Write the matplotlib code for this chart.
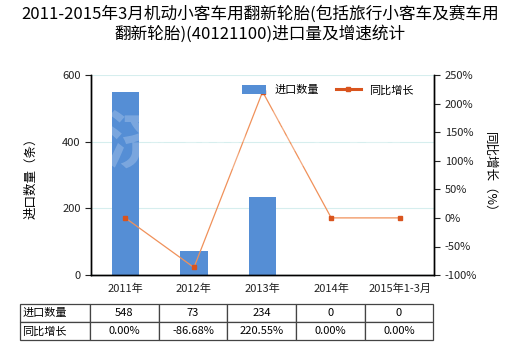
import matplotlib.pyplot as plt
from matplotlib.ticker import FuncFormatter

plt.rcParams['font.family'] = ['Noto Sans CJK SC', 'DejaVu Sans']

years = ['2011年', '2012年', '2013年', '2014年', '2015年1-3月']
qty = [548, 73, 234, 0, 0]
growth = [0.00, -86.68, 220.55, 0.00, 0.00]
qty_text = ['548', '73', '234', '0', '0']
growth_text = ['0.00%', '-86.68%', '220.55%', '0.00%', '0.00%']

BAR = '#558ed5'
LINE = '#f0915a'
MARK = '#d9541e'

fig = plt.figure(figsize=(5.2, 3.5), dpi=100)
ax = fig.add_axes([0.175, 0.214, 0.66, 0.572])
ax2 = ax.twinx()

x = range(len(years))
ax.bar(x, qty, width=0.4, color=BAR, zorder=2, label='进口数量')
ax.set_ylim(0, 600)
ax.set_yticks([0, 200, 400, 600])
ax.set_xlim(-0.5, len(years) - 0.5)
ax.set_xticks(list(x))
ax.set_xticklabels(years, fontsize=8)
ax.grid(axis='y', color='#d6eeee', linewidth=0.8, zorder=0)
ax.set_axisbelow(True)

ax2.plot(x, growth, color=LINE, linewidth=0.9, marker='s', markersize=3.5,
         markerfacecolor=MARK, markeredgecolor=MARK, zorder=3, label='同比增长')
ax2.set_ylim(-100, 250)
ax2.set_yticks(range(-100, 251, 50))
ax2.yaxis.set_major_formatter(FuncFormatter(lambda v, p: f'{v:.0f}%'))

for a in (ax, ax2):
    a.spines['top'].set_visible(False)
    a.tick_params(labelsize=8, colors='#222222', length=4, width=0.8)
    for s in ('left', 'right', 'bottom'):
        a.spines[s].set_linewidth(1.0)
ax.tick_params(axis='x', length=0, pad=6)

ax.set_ylabel('进口数量（条）', fontsize=9, labelpad=18)
ax2.set_ylabel('同比增长（%）', fontsize=9, rotation=270, labelpad=14)

# faint watermark
fig.text(0.49, 0.59, '济 研 咨 询', fontsize=46, color='white', alpha=0.22,
         ha='center', va='center', fontweight='bold', zorder=10)

fig.suptitle('2011-2015年3月机动小客车用翻新轮胎(包括旅行小客车及赛车用\n翻新轮胎)(40121100)进口量及增速统计',
             fontsize=12, y=0.985, linespacing=1.2)

h1, l1 = ax.get_legend_handles_labels()
h2, l2 = ax2.get_legend_handles_labels()
line_handle = plt.Line2D([], [], color=MARK, linewidth=2.2, marker='s', markersize=3.5)
ax2.legend(h1 + [line_handle], l1 + l2, loc='upper right', bbox_to_anchor=(0.97, 1.0),
           ncol=2, frameon=False, fontsize=8, handlelength=2.2, handleheight=0.9,
           columnspacing=1.5)

# data table under the chart
cells = [['进口数量'] + qty_text, ['同比增长'] + growth_text]
first = 70 / 413
rest = (1 - first) / len(years)
tbl = ax.table(cellText=cells, colWidths=[first] + [rest] * len(years),
               bbox=[-0.207, -0.325, 1.204, 0.18], cellLoc='center')
tbl.auto_set_font_size(False)
tbl.set_fontsize(8)
for (r, c), cell in tbl.get_celld().items():
    cell.set_edgecolor('#444444')
    cell.set_linewidth(0.9)
    if c == 0:
        cell.set_text_props(ha='left')
        cell.PAD = 0.03

fig.savefig('out.png', dpi=100)
